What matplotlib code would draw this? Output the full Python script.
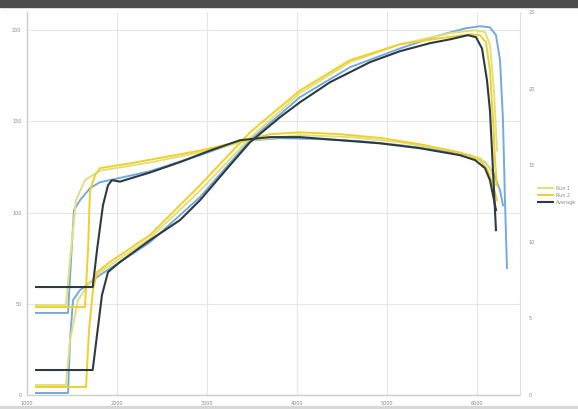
import matplotlib
matplotlib.use("Agg")
import matplotlib.pyplot as plt
from matplotlib.patches import Rectangle

# ---- data (rpm vs value, left-axis units) ----
x_ticks = [1000, 2000, 3000, 4000, 5000, 6000]
x_tick_labels = ["1000", "2000", "3000", "4000", "5000", "6000"]
left_ticks = [0, 50, 100, 150, 200]
right_ticks = [0, 5, 10, 15, 20, 25]

dark_t_x = [1100, 1730, 1778, 1844, 1900, 1944, 2033, 2367, 2700, 3033, 3367, 3700, 4033, 4478, 4922, 5367, 5811, 5978, 6089, 6144, 6178, 6211]
dark_t_y = [59.2, 59.2, 79.5, 104, 115, 117.8, 117, 122, 127.7, 134, 139.7, 141.4, 141.4, 139.7, 138, 135.3, 131.5, 128.8, 124.4, 117.8, 109.6, 101.4]
dark_p_x = [1100, 1730, 1778, 1833, 1900, 2033, 2367, 2700, 2922, 3256, 3478, 3811, 4033, 4367, 4589, 4811, 5144, 5478, 5700, 5900, 5989, 6056, 6111, 6144, 6167, 6189, 6211]
dark_p_y = [13.7, 13.7, 32.9, 54.8, 67.4, 72.9, 84.9, 95.9, 106.8, 126, 138.6, 152.3, 160.5, 171.5, 177, 182.5, 188.5, 192.9, 195, 197.3, 196.2, 190, 172.6, 156, 134, 112, 90.4]

gold_t_x = [1100, 1644, 1678, 1700, 1756, 1811, 2144, 2478, 2922, 3367, 3700, 4033, 4478, 4922, 5367, 5811, 6033, 6122, 6178, 6222]
gold_t_y = [48.2, 48.2, 79.5, 112, 120.5, 124.4, 127, 130, 134, 139, 143, 144, 143, 141, 137.5, 133, 128.8, 123, 115, 106.8]
gold_p_x = [1100, 1656, 1689, 1733, 1778, 1922, 2367, 2922, 3478, 4033, 4589, 5144, 5589, 5922, 6033, 6100, 6144, 6178, 6200, 6222]
gold_p_y = [4.4, 4.4, 35.6, 57.5, 67.4, 72.9, 87.7, 115, 144, 167, 183.6, 192.3, 195.6, 197.8, 197.3, 193.4, 178, 150.7, 128.8, 115]

pale_t_x = [1100, 1433, 1478, 1544, 1644, 1811, 2367, 2922, 3478, 4033, 4589, 5144, 5700, 6033, 6144, 6211]
pale_t_y = [49.3, 49.3, 74, 106.8, 117.8, 123, 127.5, 133, 139.7, 142.5, 141.4, 138.6, 134, 130, 124.4, 115]
pale_p_x = [1100, 1433, 1478, 1567, 1700, 1811, 2367, 2922, 3478, 4033, 4589, 5144, 5700, 5978, 6089, 6144, 6189, 6222]
pale_p_y = [5.5, 5.5, 30, 52, 62, 67.4, 86, 112, 141, 165.5, 182.5, 192.3, 198.4, 200, 199, 192, 167, 134]

blue_t_x = [1100, 1456, 1489, 1522, 1589, 1700, 1811, 1922, 2367, 2922, 3367, 3811, 4256, 4700, 5144, 5589, 5922, 6089, 6178, 6256, 6289]
blue_t_y = [45, 45, 74, 101.4, 106.8, 113.4, 116.7, 117.8, 122.7, 131.5, 139.2, 140.8, 140.3, 139.2, 137, 134.2, 131.5, 127.7, 122.2, 112.3, 104]
blue_p_x = [1100, 1456, 1478, 1511, 1589, 1811, 2033, 2367, 2922, 3478, 4033, 4589, 5144, 5589, 5867, 6033, 6144, 6211, 6256, 6289, 6311, 6333]
blue_p_y = [1.1, 1.1, 30, 52, 57.5, 65.8, 72.9, 83.8, 108.5, 139.7, 163.3, 179.7, 190, 197.3, 201, 202.2, 201.6, 197.3, 183.6, 150.7, 106.8, 69.6]

legend_labels = ["Run 1", "Run 2", "Average"]

# ---- style ----
c_blue = "#74aadd"
c_pale = "#e2e07a"
c_gold = "#efd02a"
c_dark = "#2e3a40"
grid_c = "#e6e6e6"
txt_c = "#8a8a8a"

fig = plt.figure(figsize=(5.78, 4.09), dpi=100)
fig.patch.set_facecolor("white")
ax = fig.add_axes([27 / 578, 1 - 395 / 409, (520 - 27) / 578, (395 - 12) / 409])

lw = 1.4
ax.plot(blue_p_x, blue_p_y, color=c_blue, lw=lw)
ax.plot(blue_t_x, blue_t_y, color=c_blue, lw=lw)
ax.plot(pale_p_x, pale_p_y, color=c_pale, lw=lw, label=legend_labels[0])
ax.plot(pale_t_x, pale_t_y, color=c_pale, lw=lw)
ax.plot(gold_p_x, gold_p_y, color=c_gold, lw=lw, label=legend_labels[1])
ax.plot(gold_t_x, gold_t_y, color=c_gold, lw=lw)
ax.plot(dark_p_x, dark_p_y, color=c_dark, lw=lw + 0.1, label=legend_labels[2])
ax.plot(dark_t_x, dark_t_y, color=c_dark, lw=lw + 0.1)

ax.set_xlim(1000, 6478)
ax.set_ylim(0, 210)
ax.set_xticks(x_ticks)
ax.set_xticklabels(x_tick_labels)
ax.set_yticks(left_ticks)
ax.tick_params(axis="both", length=0, labelsize=3.5, colors=txt_c, pad=4)
ax.grid(True, color=grid_c, lw=0.8)
ax.set_axisbelow(True)
for s in ["top", "right"]:
    ax.spines[s].set_visible(False)
for s in ["left", "bottom"]:
    ax.spines[s].set_color("#cfcfcf")
    ax.spines[s].set_linewidth(1.0)

ax2 = ax.twinx()
ax2.set_ylim(0, 25)
ax2.set_yticks(right_ticks)
ax2.tick_params(axis="y", length=0, labelsize=3.5, colors=txt_c, pad=6)
for s in ["top", "left", "bottom"]:
    ax2.spines[s].set_visible(False)
ax2.spines["right"].set_color("#e0e0e0")

handles, labels = ax.get_legend_handles_labels()
fig.legend(handles, labels, loc="upper left", bbox_to_anchor=(536 / 578, 1 - 184 / 409),
           frameon=False, fontsize=3.5, handlelength=3, labelspacing=0.4,
           labelcolor=txt_c, borderaxespad=0)

# screenshot frame bands
fig.add_artist(Rectangle((0, 1 - 7 / 409), 1, 7 / 409, transform=fig.transFigure,
                         color="#4d4d4d", zorder=10))
fig.add_artist(Rectangle((0, 0), 1, 3 / 409, transform=fig.transFigure,
                         color="#d8d8d8", zorder=10))

fig.savefig("out.png", dpi=100, facecolor="white")
